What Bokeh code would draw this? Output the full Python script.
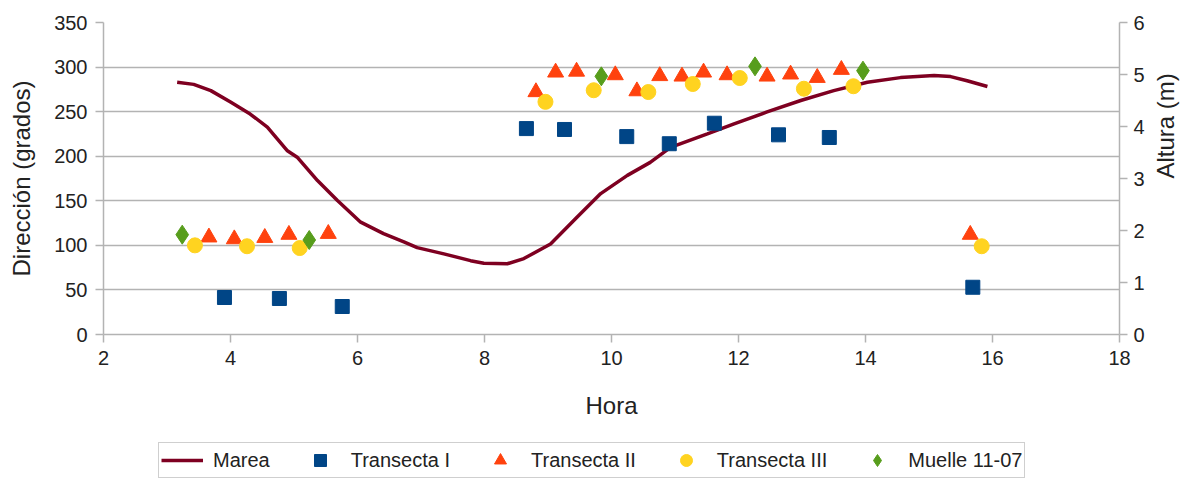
import math
from bokeh.plotting import figure
from bokeh.layouts import column
from bokeh.models import (Range1d, LinearAxis, FixedTicker, Legend, LegendItem)
from bokeh.embed import file_html
from bokeh.resources import INLINE

# ---- data ----
marea_hora = [3.16, 3.42, 3.69, 4.00, 4.31, 4.58, 4.89, 5.05, 5.37, 5.68, 6.05, 6.41, 6.73,
              6.94, 7.36, 7.78, 7.99, 8.36, 8.62, 9.04, 9.46, 9.83, 10.25, 10.61, 10.93,
              11.51, 11.93, 12.45, 12.98, 13.50, 14.03, 14.55, 15.08, 15.34, 15.60, 15.92]
marea_altura = [4.85, 4.81, 4.69, 4.47, 4.24, 3.99, 3.54, 3.41, 2.96, 2.58, 2.16, 1.94, 1.78,
                1.67, 1.55, 1.42, 1.37, 1.36, 1.46, 1.74, 2.26, 2.71, 3.06, 3.31, 3.60,
                3.86, 4.05, 4.28, 4.50, 4.69, 4.85, 4.94, 4.98, 4.96, 4.88, 4.77]

t1_hora = [3.905, 4.77, 5.76, 8.66, 9.26, 10.24, 10.91, 11.62, 12.63, 13.43, 15.69]
t1_dir = [41.5, 40.4, 31.4, 231, 230, 222, 214, 237, 224, 221, 53]

t2_hora = [3.66, 4.06, 4.54, 4.92, 5.54, 8.81, 9.12, 9.45, 10.06, 10.40, 10.76, 11.11,
           11.45, 11.82, 12.45, 12.82, 13.24, 13.62, 15.65]
t2_dir = [109, 107, 108.5, 112, 113, 272, 294, 295, 291, 273, 290, 289.5,
          294, 291, 289.5, 291.8, 288, 297, 112]

t3_hora = [3.44, 4.26, 5.09, 8.96, 9.72, 10.58, 11.28, 12.02, 13.03, 13.81, 15.83]
t3_dir = [100, 99, 97, 261, 274, 272, 281, 287.7, 275.7, 278.5, 99]

muelle_hora = [3.24, 5.24, 9.84, 12.26, 13.96]
muelle_dir = [112, 106, 289.6, 300.8, 296]

x_ticks = [2, 4, 6, 8, 10, 12, 14, 16, 18]
y_ticks = [0, 50, 100, 150, 200, 250, 300, 350]
y2_ticks = [0, 1, 2, 3, 4, 5, 6]

series_names = ["Marea", "Transecta I", "Transecta II", "Transecta III", "Muelle 11-07"]

# ---- style ----
FONT = "Liberation Sans"
TXT = "#222222"
GRID = "#b3b3b3"
C_MAREA, C_T1, C_T2, C_T3, C_MU = "#7e0021", "#004586", "#ff420e", "#ffd320", "#579d1c"

p = figure(width=1201, height=435, output_backend="svg", toolbar_location=None,
           x_range=Range1d(2, 18), y_range=Range1d(0, 350),
           min_border_left=103, min_border_right=82, min_border_top=22, min_border_bottom=101)
p.outline_line_color = None
p.background_fill_color = "white"
p.border_fill_color = "white"
p.extra_y_ranges = {"alt": Range1d(0, 6)}

p.xgrid.grid_line_color = None
p.ygrid.grid_line_color = GRID
p.ygrid.grid_line_width = 1.5
p.ygrid.ticker = FixedTicker(ticks=y_ticks)

ax2 = LinearAxis(y_range_name="alt", ticker=FixedTicker(ticks=y2_ticks))
p.add_layout(ax2, "right")

for ax in (p.xaxis[0], p.yaxis[0], ax2):
    ax.axis_line_color = GRID
    ax.axis_line_width = 1.5
    ax.major_tick_line_color = GRID
    ax.major_tick_line_width = 1.5
    ax.major_tick_in = 0
    ax.major_tick_out = 8
    ax.minor_tick_line_color = None
    ax.major_label_text_font = FONT
    ax.major_label_text_font_size = "20px"
    ax.major_label_text_color = TXT
    ax.axis_label_text_font = FONT
    ax.axis_label_text_font_size = "24px"
    ax.axis_label_text_font_style = "normal"
    ax.axis_label_text_color = TXT

p.xaxis[0].ticker = FixedTicker(ticks=x_ticks)
p.yaxis[0].ticker = FixedTicker(ticks=y_ticks)
p.xaxis[0].axis_label = "Hora"
p.yaxis[0].axis_label = "Dirección (grados)"
p.xaxis[0].major_label_standoff = 8
p.xaxis[0].axis_label_standoff = 24
p.yaxis[0].major_label_standoff = 8
p.yaxis[0].axis_label_standoff = 16

ax2.axis_label = "Altura (m)"
ax2.major_label_standoff = 6
ax2.axis_label_standoff = 18
if "axis_label_orientation" in ax2.properties():
    ax2.axis_label_orientation = math.pi / 2

# ---- glyphs ----
p.line(marea_hora, marea_altura, y_range_name="alt", line_color=C_MAREA, line_width=3.5)
p.scatter(t1_hora, t1_dir, marker="square", size=14, fill_color=C_T1, line_color=C_T1)
p.scatter(t2_hora, t2_dir, marker="triangle", size=16, fill_color=C_T2, line_color=C_T2)
p.scatter(t3_hora, t3_dir, marker="circle", size=15, fill_color=C_T3, line_color=C_T3)
p.scatter(muelle_hora, muelle_dir, marker="diamond", size=19, fill_color=C_MU, line_color=C_MU)

# ---- legend in a strip below (frame aligned with the main plot) ----
lg = figure(width=1201, height=46, output_backend="svg", toolbar_location=None,
            x_range=Range1d(0, 1), y_range=Range1d(0, 1),
            min_border_left=0, min_border_right=0, min_border_top=0, min_border_bottom=0)
lg.axis.visible = False
lg.grid.visible = False
lg.outline_line_color = None
lg.border_fill_color = "white"
lg.background_fill_color = "white"
hx, hy = [-5], [-5]  # off-screen anchor so legend swatches have a data row
l0 = lg.line(hx, hy, line_color=C_MAREA, line_width=3.5)
l1 = lg.scatter(hx, hy, marker="square", size=12, fill_color=C_T1, line_color=C_T1)
l2 = lg.scatter(hx, hy, marker="triangle", size=12, fill_color=C_T2, line_color=C_T2)
l3 = lg.scatter(hx, hy, marker="circle", size=12, fill_color=C_T3, line_color=C_T3)
l4 = lg.scatter(hx, hy, marker="diamond", size=12, fill_color=C_MU, line_color=C_MU)

legend = Legend(items=[LegendItem(label=n, renderers=[r]) for n, r in
                       zip(series_names, [l0, l1, l2, l3, l4])],
                orientation="horizontal", location=(55, 3))
legend.label_text_font = FONT
legend.label_text_font_size = "20px"
legend.label_text_color = TXT
legend.border_line_color = "#a0a0a0"
legend.border_line_width = 1.5
legend.background_fill_alpha = 1
legend.glyph_width = 42
legend.glyph_height = 30
legend.label_standoff = 10
legend.spacing = 29
legend.padding = 2
legend.margin = 0
lg.add_layout(legend, "center")

layout = column(p, lg, spacing=0)
open("out.html", "w").write(file_html(layout, INLINE))
